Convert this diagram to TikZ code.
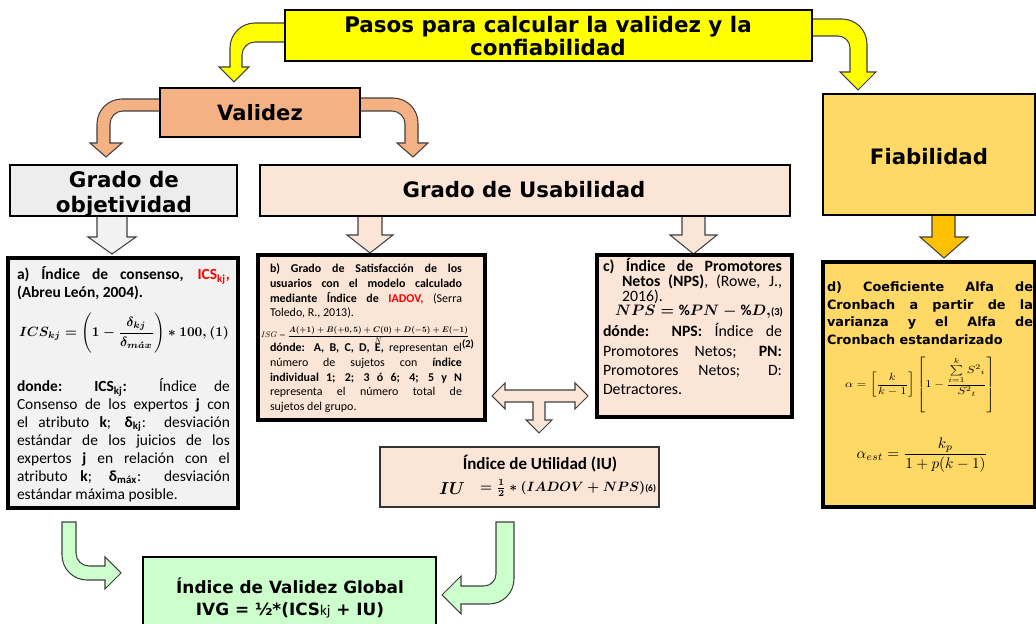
\documentclass[tikz,border=0pt]{standalone}
\usepackage{amsmath}
\usepackage{graphicx}
\usepackage{fontspec}
\setmainfont{Carlito}
\newfontfamily\verd{DejaVu Sans}
\definecolor{yel}{HTML}{FFFF00}
\definecolor{sal}{HTML}{F4B183}
\definecolor{peach}{HTML}{FBE5D6}
\definecolor{lgrey}{HTML}{EDEDED}
\definecolor{lgrey2}{HTML}{F2F2F2}
\definecolor{gold}{HTML}{FFD966}
\definecolor{amber}{HTML}{FFC000}
\definecolor{lgreen}{HTML}{CCFFCC}
\definecolor{redt}{HTML}{FF0000}
\tikzset{
  hdr/.style={draw=black, line width=1.2pt},
  bigbox/.style={draw=black, line width=1.8pt},
  arr/.style={draw=black!75, line width=0.6pt, line join=miter},
  txt/.style={inner sep=0pt, outer sep=0pt, align=justify},
  ctr/.style={inner sep=0pt, outer sep=0pt, align=center},
}
\begin{document}
\begin{tikzpicture}[x=0.02cm, y=-0.02cm]
\clip (0,0) rectangle (1036,624);
\fill[white] (0,0) rectangle (1036,624);

% ---------- bent arrows ----------
\draw[arr, fill=yel] (295,23) -- (255,23) .. controls (241.2,23) and (230,34.2) .. (230,48) -- (230,67) -- (219,67) -- (234,82) -- (249,67) -- (242,67) -- (242,55) .. controls (242,47.8) and (247.8,42) .. (255,42) -- (295,42) -- cycle;
\draw[arr, fill=yel] (800,19) -- (842,19) .. controls (855.8,19) and (867,30.2) .. (867,44) -- (867,72) -- (876,72) -- (858,90) -- (840,72) -- (850,72) -- (850,48) .. controls (850,41.4) and (844.6,36) .. (838,36) -- (800,36) -- cycle;
\draw[arr, fill=sal] (170,99) -- (122,99) .. controls (108.2,99) and (97,110.2) .. (97,124) -- (97,143) -- (90,143) -- (106,157) -- (122,143) -- (110,143) -- (110,124) .. controls (110,116.8) and (115.8,111) .. (123,111) -- (170,111) -- cycle;
\draw[arr, fill=sal] (350,98) -- (393,98) .. controls (406.8,98) and (418,109.2) .. (418,123) -- (418,143) -- (428,143) -- (413,157) -- (397,143) -- (405,143) -- (405,124) .. controls (405,116.8) and (399.2,111) .. (392,111) -- (350,111) -- cycle;
\draw[arr, fill=lgreen] (62,522) -- (62,555) .. controls (62,568.8) and (73.2,580) .. (87,580) -- (105,580) -- (105,589) -- (121,573) -- (105,557) -- (105,566) -- (89,566) .. controls (81.8,566) and (76,560.2) .. (76,553) -- (76,522) -- cycle;
\draw[arr, fill=lgreen] (514,522) -- (514,579) .. controls (514,592.8) and (502.8,604) .. (489,604) -- (461,604) -- (461,614) -- (442,595) -- (461,576) -- (461,586) -- (484,586) .. controls (490.6,586) and (496,580.6) .. (496,574) -- (496,522) -- cycle;

% ---------- down block arrows ----------
\draw[arr, fill=lgrey2] (97,212) -- (127,212) -- (127,237) -- (136,237) -- (112,254) -- (88,237) -- (97,237) -- cycle;
\draw[arr, fill=peach] (358,212) -- (382,212) -- (382,235) -- (393,235) -- (370,253) -- (347,235) -- (358,235) -- cycle;
\draw[arr, fill=peach] (682,212) -- (705,212) -- (705,235) -- (717,235) -- (693.5,254) -- (670,235) -- (682,235) -- cycle;
\draw[arr, fill=amber] (932,212) -- (955,212) -- (955,237) -- (968,237) -- (944,258) -- (920,237) -- (932,237) -- cycle;
% T double arrow
\draw[arr, fill=peach] (492,396) -- (505,383) -- (505,390) -- (575,390) -- (575,383) -- (588,396) -- (575,409) -- (575,402) -- (545,402) -- (545,420) -- (552,420) -- (539,433) -- (526,420) -- (533,420) -- (533,402) -- (505,402) -- (505,409) -- cycle;

% ---------- header boxes ----------
\draw[hdr, fill=yel] (285,10) rectangle (812,61);
\node[ctr, font=\verd\bfseries\fontsize{12.2pt}{13.6pt}\selectfont] (title) at (548,36) {Pasos para calcular la validez y la\\confiabilidad};

\draw[hdr, fill=sal] (160,88) rectangle (360,137);
\node[ctr, font=\verd\bfseries\fontsize{12pt}{14pt}\selectfont] (validez) at (260,113) {Validez};

\draw[hdr, fill=lgrey] (10,165) rectangle (237,216);
\node[ctr, font=\verd\bfseries\fontsize{12.2pt}{14.5pt}\selectfont] (obj) at (124,194) {Grado de\\objetividad};

\draw[hdr, fill=peach] (260,165) rectangle (790,216);
\node[ctr, font=\verd\bfseries\fontsize{12.1pt}{14pt}\selectfont] (usab) at (524,190) {Grado de Usabilidad};

\draw[hdr, fill=gold] (823,94) rectangle (1035,215);
\node[ctr, font=\verd\bfseries\fontsize{12.1pt}{14pt}\selectfont] (fiab) at (929,157) {Fiabilidad};

% ---------- box a ----------
\draw[bigbox, fill=lgrey2] (8,258) rectangle (238,508);
\node[txt, anchor=base west, text width=4.26cm, font=\fontsize{8.8pt}{10.2pt}\selectfont] (a1) at (17,280)
 {\bfseries a) Índice de consenso, \textcolor{redt}{ICS\textsubscript{kj},}\linebreak (Abreu León, 2004).};
\node[ctr] (aeq) at (124,333) {\resizebox{4.2cm}{!}{\boldmath$ICS_{kj}=\Biggl(1-\dfrac{\delta_{kj}}{\delta_{m\acute{a}x}}\Biggr)*100,\mathbf{(1)}$}};
\node[txt, anchor=base west, text width=4.26cm, font=\fontsize{8.8pt}{10.2pt}\selectfont] (a2) at (17,392)
 {\textbf{donde:} \textbf{ICS\textsubscript{kj}:} Índice de\linebreak Consenso de los expertos \textbf{j} con\linebreak el atributo \textbf{k}; \textbf{δ\textsubscript{kj}}: desviación\linebreak estándar de los juicios de los\linebreak expertos \textbf{j} en relación con el\linebreak atributo \textbf{k}; \textbf{δ\textsubscript{máx}}: desviación\linebreak estándar máxima posible.};

% ---------- box b ----------
\draw[bigbox, fill=peach] (258,255) rectangle (485,420);
\node[txt, anchor=base west, text width=3.84cm, font=\fontsize{6.8pt}{8.3pt}\selectfont] (b1) at (270,273)
 {\textbf{b) Grado de Satisfacción de los\linebreak usuarios con el modelo calculado\linebreak mediante Índice de \textcolor{redt}{IADOV,}} (Serra\linebreak Toledo, R., 2013).};
\node[ctr] (beq) at (365,335) {\resizebox{4.16cm}{!}{$ISG=\dfrac{\boldsymbol{A(+1)+B(+0,5)+C(0)+D(-5)+E(-1)}}{N}$}};
\node[ctr, font=\bfseries\fontsize{6pt}{7pt}\selectfont] (b2n) at (468,344) {(2)};
\node[txt, anchor=base west, text width=3.84cm, font=\fontsize{6.8pt}{8.3pt}\selectfont] (b2) at (270,352)
 {\textbf{dónde: A, B, C, D, E,} representan el\linebreak número de sujetos con \textbf{índice}\linebreak \textbf{individual 1; 2; 3 ó 6; 4; 5 y N}\linebreak representa el número total de\linebreak sujetos del grupo.};

% ---------- box c ----------
\draw[bigbox, fill=peach] (597,255) rectangle (792,417);
\node[txt, anchor=base west, text width=3.58cm, font=\fontsize{9pt}{8.5pt}\selectfont] (c1) at (603,272)
 {\textbf{c) Índice de Promotores}\linebreak};
\node[txt, anchor=base west, text width=3.2cm, font=\fontsize{9pt}{8.5pt}\selectfont] (c1b) at (622,287)
 {\textbf{Netos (NPS)}, (Rowe, J.,\linebreak 2016).};
\node[ctr] (ceq) at (699,312) {\resizebox{3.36cm}{!}{\boldmath$NPS=\%PN-\%D,$\unboldmath{\bfseries\scriptsize(3)}}};
\node[txt, anchor=base west, text width=3.58cm, font=\fontsize{9pt}{11pt}\selectfont] (c2) at (603,337)
 {\textbf{dónde: NPS:} Índice de\linebreak Promotores Netos; \textbf{PN:}\linebreak Promotores Netos; D:\linebreak Detractores.};

% ---------- box d ----------
\draw[bigbox, fill=gold] (823,262) rectangle (1035,507);
\node[txt, anchor=base west, text width=4.12cm, font=\verd\bfseries\fontsize{7.3pt}{9.9pt}\selectfont] (d1) at (827,292)
 {d) Coeficiente Alfa de\linebreak Cronbach a partir de la\linebreak varianza y el Alfa de\linebreak Cronbach estandarizado};
\node[ctr] (deq1) at (920,385) {\resizebox*{3.0cm}{1.12cm}{$\alpha=\left[\dfrac{k}{k-1}\right]\left[1-\dfrac{\sum\limits_{i=1}^{k}{S^2}_i}{{S^2}_t}\right]$}};
\node[ctr] (deq2) at (922,455) {\resizebox{2.62cm}{!}{$\alpha_{est}=\dfrac{k_p}{1+p(k-1)}$}};

% ---------- IU box ----------
\draw[draw=black!80, line width=1pt, fill=peach] (380,447) rectangle (659,507);
\node[ctr, font=\bfseries\fontsize{9.7pt}{11pt}\selectfont] (iu1) at (540,464) {Índice de Utilidad (IU)};
\node[ctr] (iu2) at (452,489) {\resizebox{0.52cm}{!}{\boldmath$IU$}};
\node[ctr] (iu3) at (568,488) {\resizebox{3.52cm}{!}{\boldmath$=\frac{1}{2}*(IADOV+NPS)$\unboldmath{\bfseries\scriptsize(6)}}};

% ---------- IVG box ----------
\draw[draw=black, line width=1.5pt, fill=lgreen] (143,557) rectangle (436,640);
\node[ctr, font=\verd\bfseries\fontsize{9.6pt}{12.5pt}\selectfont] (ivg) at (290,598)
 {Índice de Validez Global\\IVG = ½*(ICS{\normalfont\fontsize{8.5pt}{9pt}\selectfont kj} + IU)};
\end{tikzpicture}
\end{document}
